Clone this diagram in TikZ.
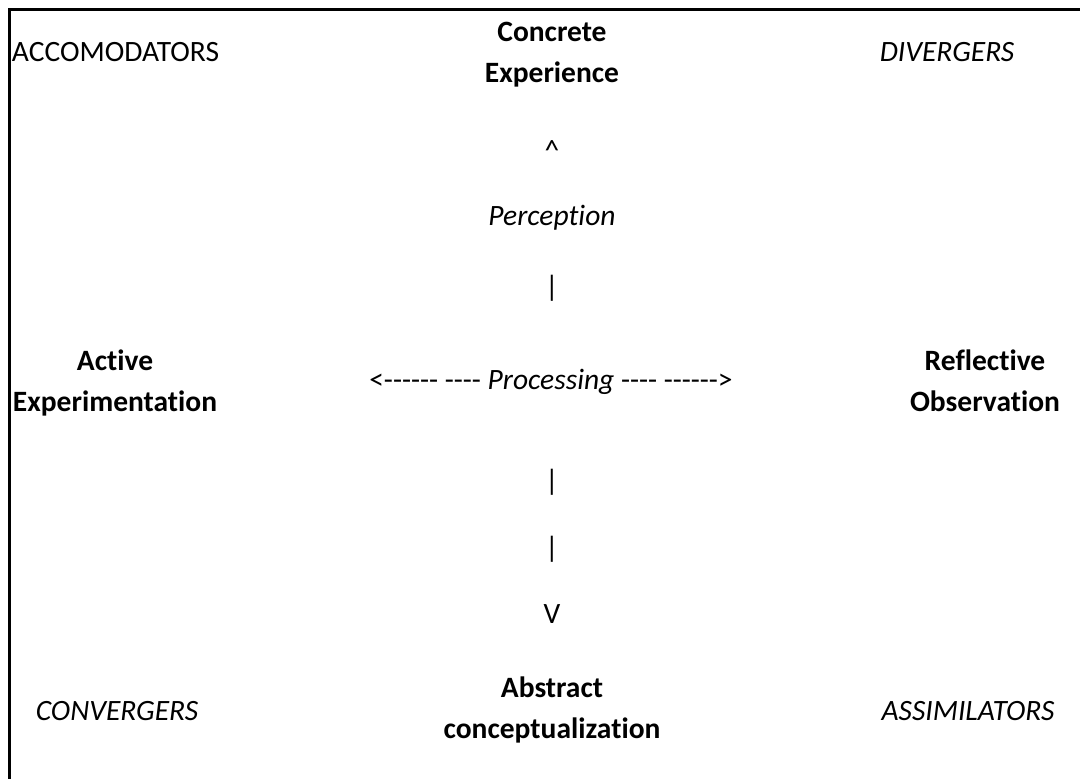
\documentclass[tikz,border=0pt]{standalone}
\usepackage{fontspec}
\setmainfont{Carlito}[Ligatures=NoCommon]
\newcommand\hy{\mbox{-}}
\begin{document}
\begin{tikzpicture}[x=1pt,y=-1pt,
  txt/.style={inner sep=0pt,outer sep=0pt,align=center,font=\fontsize{29.5}{41}\selectfont},
  bld/.style={txt,font=\fontsize{29.5}{41}\selectfont\bfseries},
  itl/.style={txt,font=\fontsize{29.5}{41}\selectfont\itshape}]
\useasboundingbox (0,0) rectangle (1080,779);
\draw[line width=3pt] (9.5,779) -- (9.5,9.5) -- (1080,9.5);
\node[txt,anchor=base west] (acc) at (12,61) {ACCOMODATORS};
\node[bld,anchor=base] (ce) at (552,82) {Concrete\\Experience};
\node[itl,anchor=base] (div) at (947,61) {DIVERGERS};
\node[txt,anchor=base] (up) at (552,160) {\^{}};
\node[itl,anchor=base] (perc) at (552,225) {Perception};
\node[txt,anchor=base] (bar1) at (552,296) {|};
\node[bld,anchor=base] (ae) at (115,411) {Active\\Experimentation};
\node[txt,anchor=base] (proc) at (551,389) {<\hy\hy\hy\hy\hy\hy{} \hy\hy\hy\hy{} \textit{Processing} \hy\hy\hy\hy{} \hy\hy\hy\hy\hy\hy>};
\node[bld,anchor=base] (ro) at (985,411) {Reflective\\Observation};
\node[txt,anchor=base] (bar2) at (552,490) {|};
\node[txt,anchor=base] (bar3) at (552,557) {|};
\node[txt,anchor=base] (down) at (552,623) {V};
\node[itl,anchor=base] (conv) at (117,720) {CONVERGERS};
\node[bld,anchor=base] (ac) at (552,738) {Abstract\\conceptualization};
\node[itl,anchor=base] (ass) at (968,720) {ASSIMILATORS};
\end{tikzpicture}
\end{document}
